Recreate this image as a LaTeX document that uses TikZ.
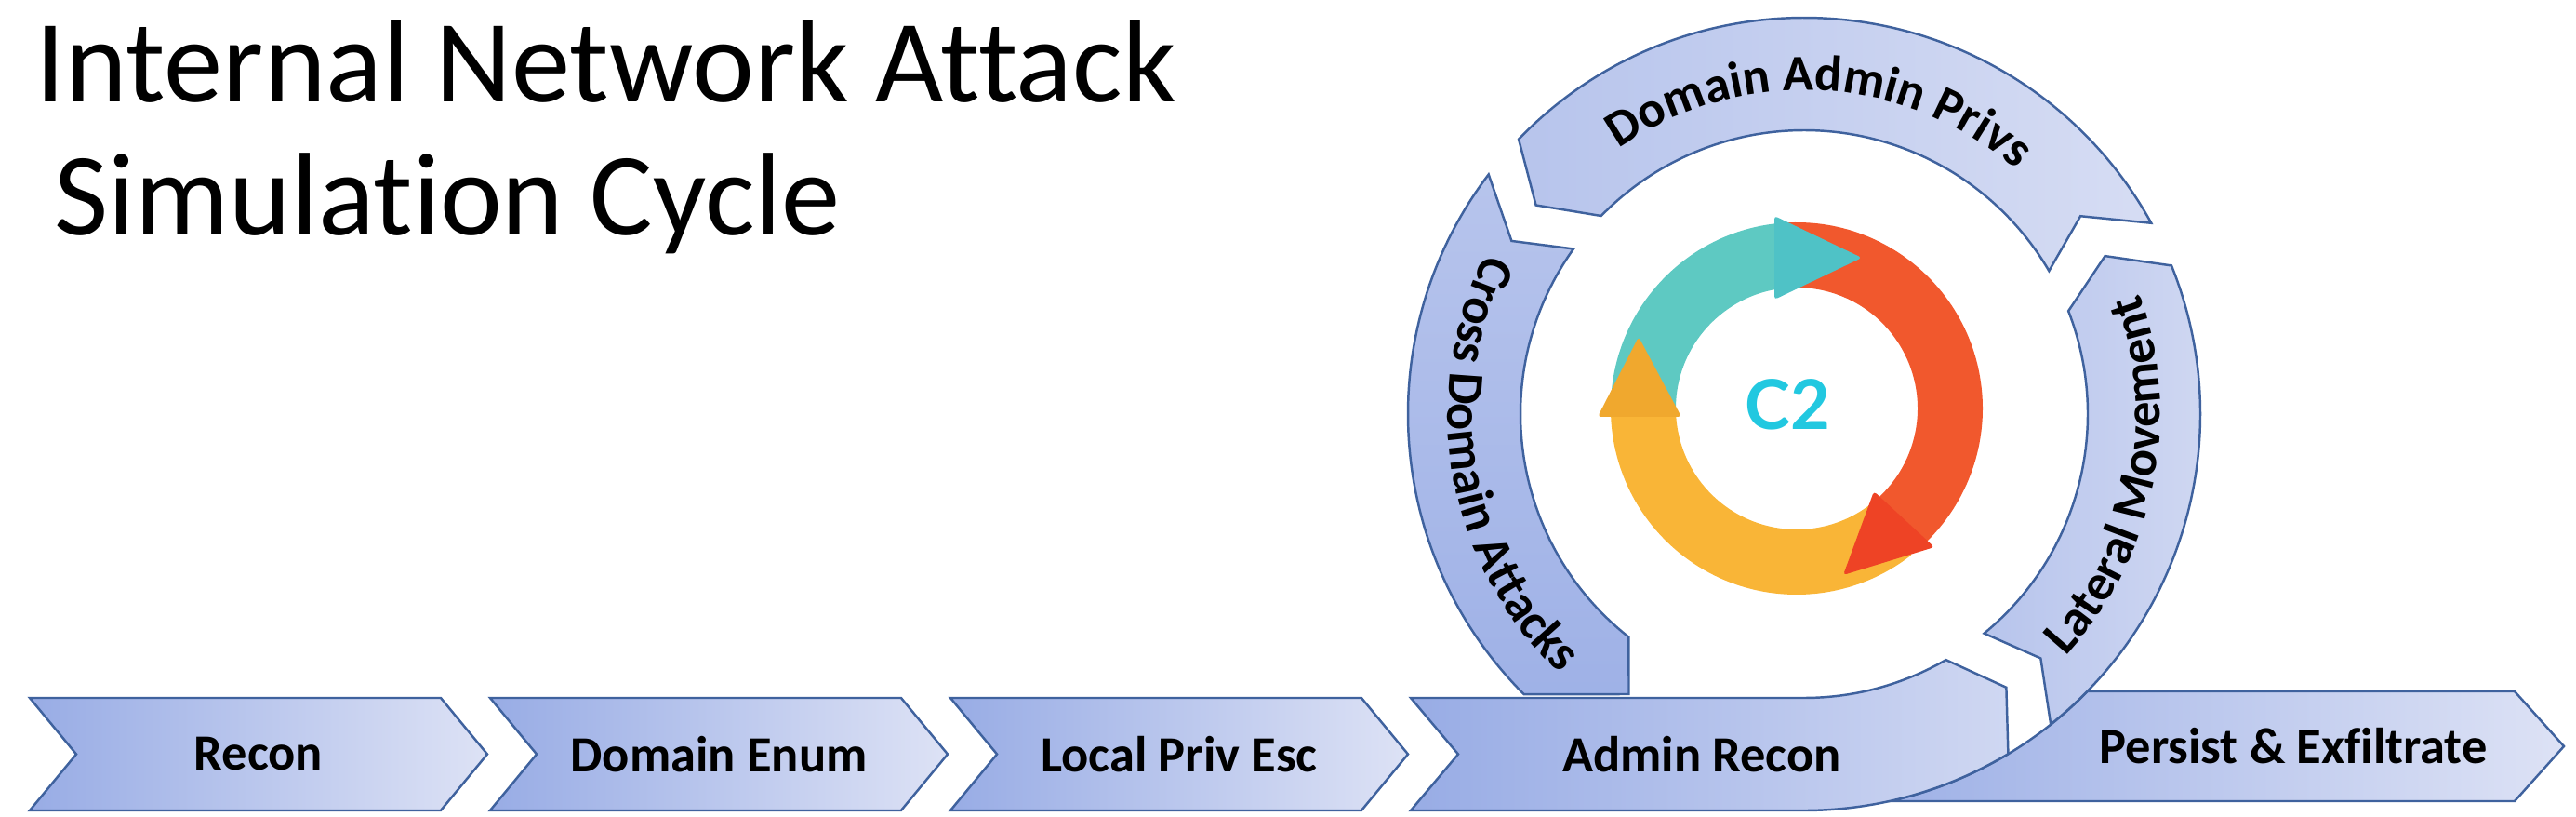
\documentclass[tikz,border=0pt]{standalone}
\usepackage{fontspec}
\setmainfont{Carlito}[Ligatures=NoCommon]
\newfontfamily\ctwofont{Lato}
\usetikzlibrary{shapes.symbols, decorations.text, positioning}

\definecolor{bandline}{HTML}{3F629E}
\definecolor{bandL}{HTML}{98ACE5}
\definecolor{bandR}{HTML}{DDE2F5}
\definecolor{tealarc}{HTML}{5EC9C2}
\definecolor{tealhead}{HTML}{4FC2C6}
\definecolor{redarc}{HTML}{F1582D}
\definecolor{redhead}{HTML}{EE4325}
\definecolor{yelarc}{HTML}{F9B537}
\definecolor{yelhead}{HTML}{F0A82E}
\definecolor{ctwo}{HTML}{22C8E0}

\newcommand{\steplbl}{\fontsize{15.5}{18}\selectfont\bfseries}

\begin{document}
\begin{tikzpicture}[
		chev/.style={signal, signal to=east, signal from=west, signal pointer angle=100.8,
			minimum width=4.92cm, minimum height=1.21cm, inner sep=0pt, outer sep=0pt,
			draw=bandline, line width=0.7pt, left color=bandL, right color=bandR, font=\steplbl},
		band/.style={draw=bandline, line width=0.7pt},
		ringtxt/.style={decorate, decoration={text along path, text align=center, text={|\steplbl|#1}}}
	]
	\useasboundingbox (0,0) rectangle (27.70,8.77);

	\def\R{4.26};
	\def\r{3.05};
	\def\m{3.655};

	% title
	\node [anchor=base west, inner sep=0pt, font=\fontsize{36}{40}\selectfont] (title1) at (0.38,7.67) {Internal Network Attack};
	\node [anchor=base west, inner sep=0pt, font=\fontsize{36}{40}\selectfont] (title2) at (0.58,6.24) {Simulation Cycle};

	% exit arrow
	\draw [band, left color=bandL!90!bandR, right color=bandR] (22.444,1.34) -- (27.04,1.34) -- (27.57,0.75) -- (27.04,0.16)
		-- (20.318,0.16) arc [start angle=-77.6, end angle=-44.4, radius=\R] -- cycle;
	\node [font=\steplbl] (persist) at (24.66,0.75) {Persist \& Exfiltrate};

	% steps
	\node [chev] (recon) at (2.78,0.665) {Recon};
	\node [chev] (domenum) at ([xshift=4.95cm]recon) {Domain Enum};
	\node [chev] (localpriv) at ([xshift=4.95cm]domenum) {Local Priv Esc};

	% cycle
	\begin{scope}[shift={(19.40,4.32)}]
		\draw [band, left color=bandL, right color=bandR!80!bandL] (-4.23,-3.05) -- (-90:\r) arc [start angle=-90, end angle=-60, radius=\r]
			-- (-53.5:\m) -- (-59:\R) arc [start angle=-59, end angle=-90, radius=\R] -- (-4.23,-4.26) -- (-3.72,-3.655) -- cycle;
		\draw [band, left color=bandL!55!bandR, right color=bandR!85!bandL] (-51.5:\R) arc [start angle=-51.5, end angle=22, radius=\R]
			-- (27.7:\m) -- (21.3:\r) arc [start angle=21.3, end angle=-50.6, radius=\r] -- (-45.9:\m) -- cycle;
		\draw [band, left color=bandL!55!bandR, right color=bandR!90!bandL] (28.8:\R) arc [start angle=28.8, end angle=136.1, radius=\R]
			-- (142.1:\m) -- (135.7:\r) arc [start angle=135.7, end angle=30.3, radius=\r] -- (35.6:\m) -- cycle;
		\draw [band, top color=bandL!55!bandR, bottom color=bandL!90!bandR] (142.8:\R) arc [start angle=142.8, end angle=225, radius=\R]
			-- (-1.885,-3.01) -- (231.8:\r) arc [start angle=231.8, end angle=144.4, radius=\r] -- (149.4:\m) -- cycle;

		\path [ringtxt={Domain Admin Privs}] (147:3.48) arc [start angle=147, end angle=27, radius=3.48];
		\path [ringtxt={Lateral Movement}] (-55:3.83) arc [start angle=-55, end angle=32, radius=3.83];
		\path [ringtxt={Cross Domain Attacks}] (145:3.83) arc [start angle=145, end angle=235, radius=3.83];
	\end{scope}
	\node [font=\steplbl] (adminrecon) at (18.30,0.665) {Admin Recon};

	% C2 ring
	\begin{scope}[shift={(19.32,4.38)}]
		\fill [yelarc] (181:2) arc [start angle=181, end angle=308, radius=2] -- (308:1.3) arc [start angle=308, end angle=181, radius=1.3] -- cycle;
		\fill [tealarc] (95:2) arc [start angle=95, end angle=180, radius=2] -- (180:1.3) arc [start angle=180, end angle=95, radius=1.3] -- cycle;
		\fill [redarc] (95:2) arc [start angle=95, end angle=-50, radius=2] -- (-50:1.3) arc [start angle=-50, end angle=95, radius=1.3] -- cycle;
		\fill [redhead, rounded corners=1pt] (0.83,-0.89) -- (1.48,-1.49) -- (0.50,-1.79) -- cycle;
		\fill [yelhead, rounded corners=1pt] (-2.14,-0.09) -- (-1.24,-0.09) -- (-1.70,0.77) -- cycle;
		\fill [tealhead, rounded corners=1pt] (-0.24,1.17) -- (-0.24,2.07) -- (0.70,1.62) -- cycle;
	\end{scope}
	\node [font=\ctwofont\bfseries\fontsize{21}{24}\selectfont, text=ctwo] (c2) at (19.22,4.42) {C2};
\end{tikzpicture}
\end{document}
